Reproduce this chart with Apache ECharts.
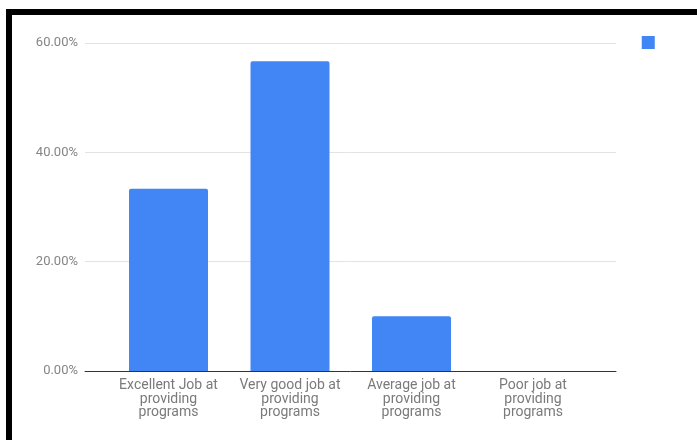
<!DOCTYPE html>
<html>
<head>
<meta charset="utf-8">
<script src="https://cdn.jsdelivr.net/npm/echarts@6/dist/echarts.min.js"></script>
<style>
  html, body { margin: 0; padding: 0; background: #fff; }
  #chart { width: 697px; height: 440px; }
</style>
</head>
<body>
<div id="chart"></div>
<script>
// Survey responses: share of respondents per rating
const categories = [
  'Excellent Job at\nproviding\nprograms',
  'Very good job at\nproviding\nprograms',
  'Average job at\nproviding\nprograms',
  'Poor job at\nproviding\nprograms'
];
const shares = [33.33, 56.67, 10.0, 0];
const yTicks = { min: 0, max: 60, interval: 20 };

const chart = echarts.init(document.getElementById('chart'), null, { renderer: 'canvas' });

const fontFamily = 'Roboto, "Noto Sans", sans-serif';

chart.setOption({
  animation: false,
  backgroundColor: '#ffffff',
  textStyle: { fontFamily },
  legend: {
    data: [{ name: ' ', icon: 'rect' }],
    right: 32,
    top: 31,
    itemWidth: 13,
    itemHeight: 13,
    textStyle: { fontSize: 1, color: '#fff' },
    selectedMode: false
  },
  grid: [
    // frame with gridlines and baseline
    { left: 85, right: 81, top: 43, bottom: 69 },
    // band where the bars sit
    { left: 107.75, right: 103.25, top: 43, bottom: 69 }
  ],
  xAxis: [
    {
      gridIndex: 0, type: 'value', min: 0, max: 1,
      axisLine: { show: true, lineStyle: { color: '#333333', width: 1 } },
      axisTick: { show: false }, axisLabel: { show: false }, splitLine: { show: false }
    },
    {
      gridIndex: 1, type: 'category', data: categories,
      axisLine: { show: false }, axisTick: { show: false },
      axisLabel: {
        interval: 0, margin: 8, color: '#7a7a7a', fontSize: 14,
        lineHeight: 13.5, fontFamily
      }
    }
  ],
  yAxis: [
    {
      gridIndex: 0, type: 'value',
      min: yTicks.min, max: yTicks.max, interval: yTicks.interval,
      axisLine: { show: false }, axisTick: { show: false },
      axisLabel: {
        margin: 7, color: '#858585', fontSize: 13, fontFamily,
        formatter: v => v.toFixed(2) + '%'
      },
      splitLine: { lineStyle: { color: '#e3e3e3', width: 1 } }
    },
    {
      gridIndex: 1, type: 'value',
      min: yTicks.min, max: yTicks.max, interval: yTicks.interval,
      show: false
    }
  ],
  series: [
    {
      name: ' ',
      type: 'bar',
      xAxisIndex: 1,
      yAxisIndex: 1,
      data: shares,
      barWidth: 79,
      itemStyle: { color: '#4285f4', borderRadius: [2, 2, 0, 0] }
    }
  ],
  graphic: [
    { type: 'rect', shape: { x: 6, y: 9, width: 691, height: 6 }, style: { fill: '#000' }, z: 100 },
    { type: 'rect', shape: { x: 6, y: 9, width: 6, height: 431 }, style: { fill: '#000' }, z: 100 }
  ]
});
</script>
</body>
</html>
